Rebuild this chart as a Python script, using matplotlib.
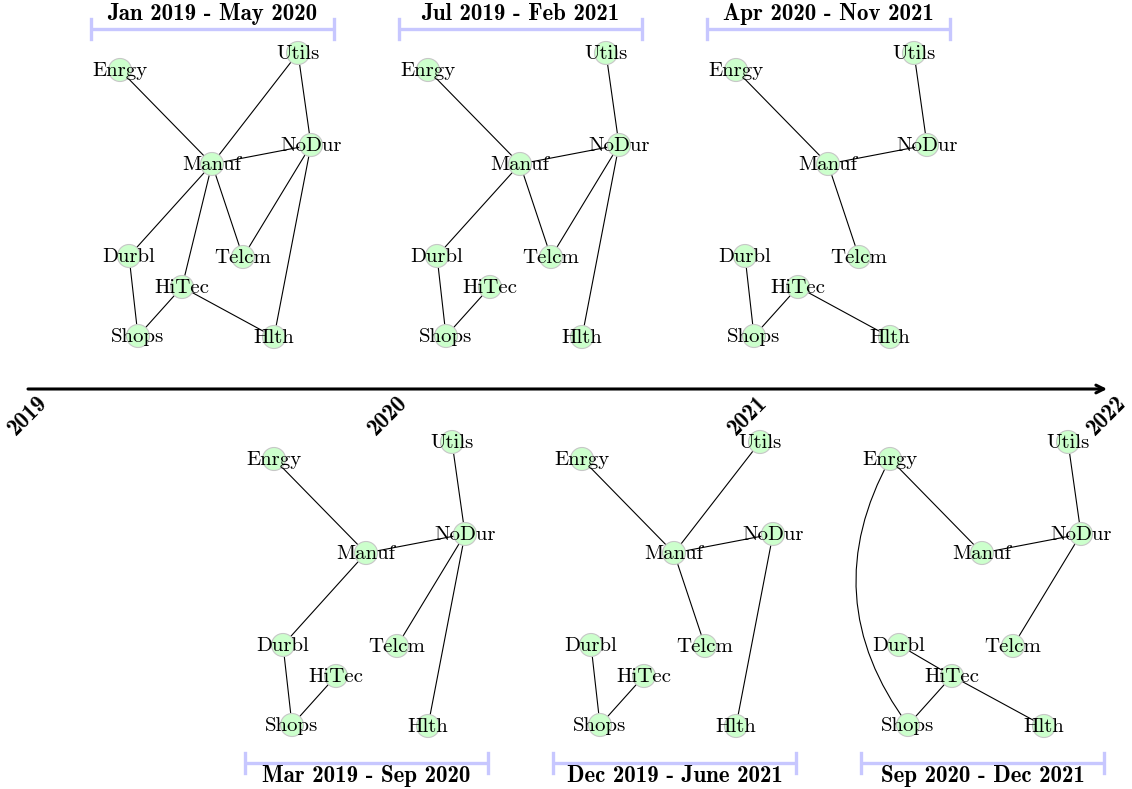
import matplotlib.pyplot as plt
import matplotlib.patches as mplpatches

# Data
sectors = ['Enrgy', 'Utils', 'NoDur', 'Manuf', 'Durbl', 'Telcm', 'HiTec', 'Shops', 'Hlth']
periods = ['Jan 2019 - May 2020', 'Jul 2019 - Feb 2021', 'Apr 2020 - Nov 2021',
           'Mar 2019 - Sep 2020', 'Dec 2019 - June 2021', 'Sep 2020 - Dec 2021']
edges = [
    [('Enrgy', 'Manuf'), ('Utils', 'Manuf'), ('Utils', 'NoDur'), ('Manuf', 'NoDur'),
     ('Manuf', 'Durbl'), ('Manuf', 'HiTec'), ('Manuf', 'Telcm'), ('NoDur', 'Telcm'),
     ('NoDur', 'Hlth'), ('Durbl', 'Shops'), ('HiTec', 'Shops'), ('HiTec', 'Hlth')],
    [('Enrgy', 'Manuf'), ('Utils', 'NoDur'), ('Manuf', 'NoDur'), ('Manuf', 'Durbl'),
     ('Manuf', 'Telcm'), ('NoDur', 'Telcm'), ('NoDur', 'Hlth'), ('Durbl', 'Shops'),
     ('HiTec', 'Shops')],
    [('Enrgy', 'Manuf'), ('Utils', 'NoDur'), ('Manuf', 'NoDur'), ('Manuf', 'Telcm'),
     ('Durbl', 'Shops'), ('HiTec', 'Shops'), ('HiTec', 'Hlth')],
    [('Enrgy', 'Manuf'), ('Utils', 'NoDur'), ('Manuf', 'NoDur'), ('Manuf', 'Durbl'),
     ('NoDur', 'Telcm'), ('NoDur', 'Hlth'), ('Durbl', 'Shops'), ('HiTec', 'Shops')],
    [('Enrgy', 'Manuf'), ('Utils', 'Manuf'), ('Manuf', 'NoDur'), ('Manuf', 'Telcm'),
     ('NoDur', 'Hlth'), ('Durbl', 'Shops'), ('HiTec', 'Shops')],
    [('Enrgy', 'Manuf'), ('Utils', 'NoDur'), ('Manuf', 'NoDur'), ('NoDur', 'Telcm'),
     ('Durbl', 'HiTec'), ('HiTec', 'Shops'), ('HiTec', 'Hlth')],
]
curvedEdges = [[], [], [], [], [], [('Enrgy', 'Shops')]]
years = [2019, 2020, 2021, 2022]

# Layout (pixel canvas)
figureWidth = 11.32
figureHeight = 7.89
nodePos = {'Enrgy': (120, 70), 'Utils': (298, 53), 'NoDur': (311, 145),
           'Manuf': (212, 164), 'Durbl': (129, 256), 'Telcm': (243, 257),
           'HiTec': (182, 287), 'Shops': (138, 336), 'Hlth': (274, 337)}
panelOffsets = [(0, 0), (308, 0), (616, 0), (154, 389), (462, 389), (770, 389)]
nodeRadius = 11.5
nodeFill = (0.8, 1.0, 0.8)
nodeEdge = (0.78, 0.78, 0.78)
bracketColor = (0.78, 0.78, 1.0)
timelineY = 389
yearX0, yearStep = 28, 359.7
boldSize = 16.5

fig = plt.figure(figsize=(figureWidth, figureHeight), dpi=100)
ax = fig.add_axes([0, 0, 1, 1])
ax.set_xlim(0, 1132)
ax.set_ylim(789, 0)
ax.axis('off')

for i, label in enumerate(periods):
    ox, oy = panelOffsets[i]
    pos = {s: (nodePos[s][0] + ox, nodePos[s][1] + oy) for s in sectors}

    for a, b in edges[i]:
        ax.plot([pos[a][0], pos[b][0]], [pos[a][1], pos[b][1]],
                color='black', linewidth=0.8, zorder=1)
    for a, b in curvedEdges[i]:
        arc = mplpatches.FancyArrowPatch(pos[a], pos[b], arrowstyle='-',
                                         connectionstyle='arc3,rad=0.32',
                                         shrinkA=0, shrinkB=0,
                                         color='black', linewidth=0.8, zorder=1)
        ax.add_patch(arc)

    for s in sectors:
        circle = mplpatches.Circle(pos[s], nodeRadius, facecolor=nodeFill,
                                   edgecolor=nodeEdge, linewidth=0.8, zorder=2)
        ax.add_patch(circle)
        ax.text(pos[s][0], pos[s][1] + 1, s, fontsize=15, family='cmr10',
                ha='center', va='center', zorder=3)

    # period bracket, above the top row and below the bottom row
    if oy == 0:
        by, ty = 29, 14
    else:
        by, ty = 763, 776
    cap = 10
    x1, x2 = 91 + ox, 334 + ox
    ax.plot([x1, x2], [by, by], color=bracketColor, linewidth=2.4,
            solid_capstyle='butt', zorder=1)
    ax.plot([x1, x1], [by - cap, by + cap], color=bracketColor, linewidth=2.4, zorder=1)
    ax.plot([x2, x2], [by - cap, by + cap], color=bracketColor, linewidth=2.4, zorder=1)
    ax.text((x1 + x2) / 2, ty, label, fontsize=boldSize, family='cmb10',
            ha='center', va='center', zorder=3)

# timeline
xStart = yearX0
xEnd = yearX0 + (years[-1] - years[0]) * yearStep
ax.annotate('', xy=(xEnd, timelineY), xytext=(xStart, timelineY),
            arrowprops=dict(arrowstyle='->', linewidth=2.2, color='black',
                            shrinkA=0, shrinkB=0, mutation_scale=14))
for yr in years:
    x = yearX0 + (yr - years[0]) * yearStep
    ax.text(x, timelineY + 27, str(yr), fontsize=boldSize, family='cmb10',
            rotation=45, ha='center', va='center', zorder=3)

plt.savefig('out.png', dpi=100)
